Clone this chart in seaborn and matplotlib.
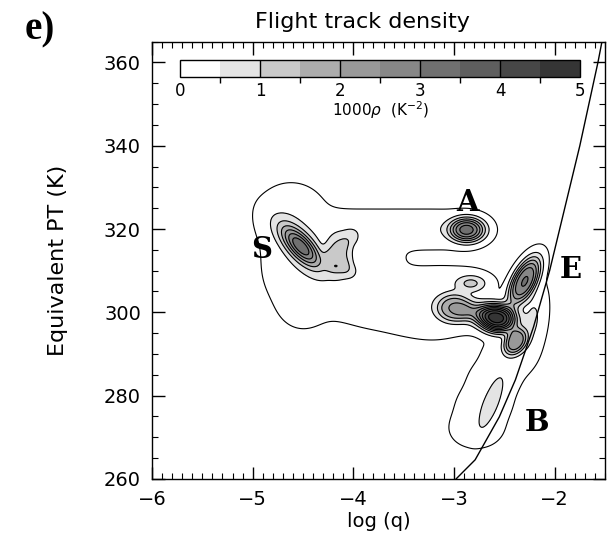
import numpy as np
import pandas as pd
import seaborn as sns
import matplotlib.pyplot as plt
from matplotlib.colors import ListedColormap, BoundaryNorm
from matplotlib.cm import ScalarMappable
from matplotlib.ticker import MultipleLocator

# # # # # data # # # # #

# density peaks: centre (log q, theta_e), spread, correlation, peak (1000 rho), flatness
blob_x = [-4.52, -4.15, -4.03, -4.03, -4.17, -2.87, -2.57, -2.30, -2.39, -3.00, -2.80, -2.83, -2.22, -2.63]
blob_y = [315.8, 313.5, 317.5, 310.0, 311.1, 319.8, 298.6, 307.5, 293.0, 301.0, 300.0, 307.0, 298.0, 278.3]
blob_sx = [0.14, 0.10, 0.06, 0.06, 0.03, 0.12, 0.13, 0.11, 0.08, 0.12, 0.10, 0.10, 0.08, 0.09]
blob_sy = [3.5, 3.5, 1.5, 1.5, 0.5, 2.0, 2.3, 4.0, 2.2, 2.3, 1.8, 1.3, 5.0, 4.5]
blob_r = [-0.7, 0.0, 0.0, 0.0, 0.0, 0.0, -0.1, 0.6, 0.3, 0.0, 0.0, 0.0, 0.3, 0.75]
blob_amp = [3.2, 1.0, 0.5, 0.5, 0.3, 3.0, 4.7, 3.0, 2.3, 1.7, 1.2, 1.05, 0.6, 0.62]
blob_k = [1.0, 2.0, 1.0, 1.0, 1.0, 1.3, 1.3, 1.5, 1.5, 1.5, 1.0, 1.0, 1.0, 1.5]

# low density envelope (outer edge of the flight tracks)
env_x = [-4.62, -4.55, -4.50,
         -4.15, -3.85, -3.55, -3.25, -2.95,
         -4.20, -3.85, -3.50, -3.20, -2.90, -3.75,
         -2.78, -2.70, -2.60, -2.47]
env_y = [323.0, 311.0, 302.0,
         320.0, 320.0, 320.0, 320.0, 320.0,
         305.5, 304.0, 302.5, 302.0, 303.0, 313.5,
         272.0, 278.0, 284.0, 290.0]
env_sx = [0.20, 0.20, 0.12,
          0.18, 0.18, 0.18, 0.18, 0.18,
          0.20, 0.20, 0.20, 0.20, 0.20, 0.15,
          0.17, 0.17, 0.16, 0.15]
env_sy = [4.5, 6.0, 3.0,
          2.5, 2.5, 2.5, 2.5, 2.5,
          4.0, 4.5, 4.5, 5.0, 4.5, 2.5,
          3.0, 3.0, 3.0, 3.0]
env_amp = [0.3, 0.3, 0.3,
           0.25, 0.25, 0.25, 0.25, 0.25,
           0.2, 0.2, 0.2, 0.2, 0.2, 0.15,
           0.2, 0.2, 0.2, 0.2]

# saturation curve
curve_x = [-2.98, -2.79, -2.55, -2.39, -2.21, -2.05, -1.95, -1.75, -1.57, -1.53]
curve_y = [260.0, 264.6, 274.9, 283.8, 296.5, 310.0, 320.0, 340.0, 360.0, 365.0]

levels = [0.5, 1.0, 1.5, 2.0, 2.5, 3.0, 3.5, 4.0, 4.5, 5.0]
grays = ['#e4e4e4', '#c9c9c9', '#acacac', '#999999', '#878787',
         '#707070', '#5e5e5e', '#474747', '#353535']
edge_level = 0.06

labels = ['S', 'A', 'E', 'B']
label_x = [-4.91, -2.87, -1.84, -2.18]
label_y = [315.0, 326.3, 310.2, 273.6]

# # # # # build the density field # # # # #

xg = np.linspace(-6, -1.5, 451)
yg = np.linspace(260, 365, 526)
X, Y = np.meshgrid(xg, yg)


def add_blobs(bx, by, bsx, bsy, br, ba, bk):
    z = np.zeros_like(X)
    for cx, cy, sx, sy, r, a, k in zip(bx, by, bsx, bsy, br, ba, bk):
        u = (X - cx) / sx
        v = (Y - cy) / sy
        q = (u ** 2 - 2 * r * u * v + v ** 2) / (1 - r ** 2)
        z += a * np.exp(-(q / 2) ** k)
    return z


n_env = len(env_x)
Z = add_blobs(blob_x, blob_y, blob_sx, blob_sy, blob_r, blob_amp, blob_k) + \
    add_blobs(env_x, env_y, env_sx, env_sy, [0.0] * n_env, env_amp, [1.0] * n_env)

# # # # # plot # # # # #

sns.set_theme(style='ticks')
plt.rcParams['font.family'] = ['DejaVu Sans']
plt.rcParams['axes.linewidth'] = 1.0
for key in ['text.color', 'axes.labelcolor', 'xtick.color', 'ytick.color', 'axes.edgecolor']:
    plt.rcParams[key] = 'black'

fig = plt.figure(figsize=(6.07, 5.35), dpi=100)
ax = fig.add_axes([0.2504, 0.1047, 0.7463, 0.8177])

ax.contourf(X, Y, Z, levels=levels, colors=grays)
ax.contour(X, Y, Z, levels=[edge_level] + levels, colors='black', linewidths=0.8)

curve = pd.DataFrame({'logq': curve_x, 'thetae': curve_y})
sns.lineplot(data=curve, x='logq', y='thetae', color='black', linewidth=1.0,
             sort=False, estimator=None, ax=ax)

for t, lx, ly in zip(labels, label_x, label_y):
    ax.text(lx, ly, t, ha='center', va='center', fontsize=21,
            fontweight='bold', family='DejaVu Serif')

ax.set_xlim(-6, -1.5)
ax.set_ylim(260, 365)
ax.xaxis.set_major_locator(MultipleLocator(1))
ax.xaxis.set_minor_locator(MultipleLocator(0.1))
ax.yaxis.set_major_locator(MultipleLocator(20))
ax.yaxis.set_minor_locator(MultipleLocator(5))
ax.tick_params(which='both', direction='in', top=True, right=True)
ax.tick_params(which='major', length=9, width=1, labelsize=14, pad=8)
ax.tick_params(which='minor', length=4, width=0.8)
ax.set_xlabel('log (q)', fontsize=14, labelpad=2)
ax.set_ylabel('Equivalent PT (K)', fontsize=16, labelpad=26)

# colour key inside the plot
cmap = ListedColormap(['white'] + grays)
norm = BoundaryNorm([0.0] + levels, cmap.N)
cax = ax.inset_axes([0.062, 0.918, 0.883, 0.039])
cb = fig.colorbar(ScalarMappable(norm=norm, cmap=cmap), cax=cax,
                  orientation='horizontal', ticks=[0, 1, 2, 3, 4, 5])
cb.outline.set_linewidth(1.0)
cax.tick_params(length=0, labelsize=12, pad=3)
for v in [1, 2, 3, 4]:
    cax.axvline(v, color='black', linewidth=1.0)
cax.set_xlabel(r'1000$\rho$  (K$^{-2}$)', fontsize=11, labelpad=0)

fig.text(0.597, 0.958, 'Flight track density', ha='center', va='center', fontsize=16)
fig.text(0.04, 0.945, 'e)', ha='left', va='center', fontsize=28,
         fontweight='bold', family='Liberation Serif')

fig.savefig('out.png', dpi=100)
